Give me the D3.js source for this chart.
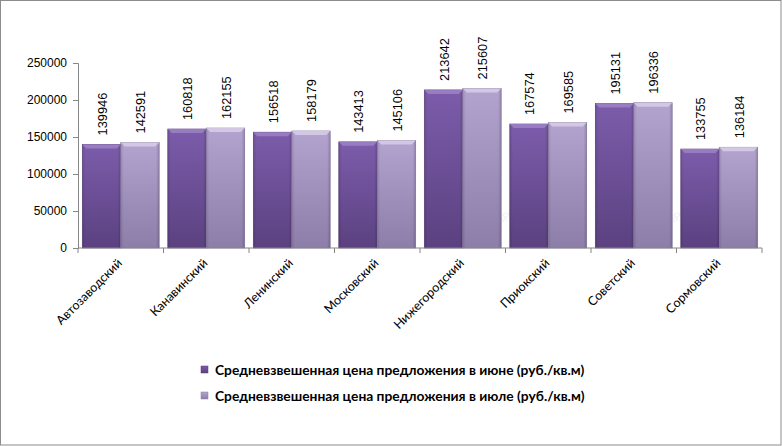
<!DOCTYPE html>
<html><head><meta charset="utf-8">
<script src="https://cdn.jsdelivr.net/npm/d3@7/dist/d3.min.js"></script>
<style>body{margin:0;background:#fff}svg{display:block}</style>
</head><body><svg id="c" width="782" height="446"></svg>
<script>
const categories = ["Автозаводский","Канавинский","Ленинский","Московский","Нижегородский","Приокский","Советский","Сормовский"];
const seriesNames = ["Средневзвешенная цена предложения в июне (руб./кв.м)","Средневзвешенная цена предложения в июле (руб./кв.м)"];
const juneValues = [139946,160818,156518,143413,213642,167574,195131,133755];
const julyValues = [142591,162155,158179,145106,215607,169585,196336,136184];
const yTicks = [0,50000,100000,150000,200000,250000];
const watermarks = [["Автозаводский",0.5],["Канавинский",0.5],["Приокский",0.2],["Сормовский",0.2]];

const svg = d3.select("#c");
const W=782,H=446;
svg.append("rect").attr("x",0.5).attr("y",0.5).attr("width",W-1.5).attr("height",H-1.5).attr("fill","#fff").attr("stroke","#8c8c8c");

const x = d3.scaleBand().domain(categories).range([78,762]).paddingInner(0.1).paddingOuter(0.05);
const xs = d3.scaleBand().domain([0,1]).range([0,x.bandwidth()]);
const y = d3.scaleLinear().domain([0,250000]).range([248,63]);

const defs = svg.append("defs");
const cols = [["#7c5cab","#5b4180"],["#b3a3cf","#8c7ea8"]];
cols.forEach((c,i)=>{
  const g = defs.append("linearGradient").attr("id","g"+i).attr("x1",0).attr("y1",0).attr("x2",0).attr("y2",1);
  g.append("stop").attr("offset",0).attr("stop-color",c[0]);
  g.append("stop").attr("offset",1).attr("stop-color",c[1]);
  const h = defs.append("linearGradient").attr("id","s"+i).attr("x1",0).attr("y1",0).attr("x2",1).attr("y2",0);
  h.append("stop").attr("offset",0).attr("stop-color","#000").attr("stop-opacity",0.12);
  h.append("stop").attr("offset",0.08).attr("stop-color","#000").attr("stop-opacity",0);
  h.append("stop").attr("offset",0.92).attr("stop-color","#000").attr("stop-opacity",0);
  h.append("stop").attr("offset",1).attr("stop-color","#000").attr("stop-opacity",0.18);
});

// watermarks
watermarks.forEach(([c,f])=>{
  svg.append("text").attr("transform",`translate(${x(c)+x.bandwidth()*f},210) rotate(-30)`)
    .attr("text-anchor","middle").attr("font-family","Liberation Sans, Arial").attr("font-size",11)
    .attr("fill","#000").attr("opacity",0.06).text("GIPERNN.RU");
});

const series = [juneValues, julyValues];
series.forEach((vals,si)=>{
  const g = svg.append("g");
  const data = categories.map((c,i)=>({c,v:vals[i]}));
  const bx = d=>x(d.c)+xs(si), bw = xs.bandwidth();
  g.selectAll("rect.b").data(data).join("rect").attr("class","b")
    .attr("x",bx).attr("y",d=>y(d.v)).attr("width",bw).attr("height",d=>y(0)-y(d.v))
    .attr("fill",`url(#g${si})`).attr("stroke",si?"#8a7ca6":"#553c78").attr("stroke-width",0.6);
  g.selectAll("rect.s").data(data).join("rect").attr("class","s")
    .attr("x",bx).attr("y",d=>y(d.v)).attr("width",bw).attr("height",d=>y(0)-y(d.v))
    .attr("fill",`url(#s${si})`);
  g.selectAll("path.t").data(data).join("path").attr("class","t")
    .attr("d",d=>{const x0=bx(d),y0=y(d.v);return `M${x0},${y0}L${x0+bw},${y0}L${x0+bw-4},${y0+4}L${x0+4},${y0+4}Z`;})
    .attr("fill",si?"#d8cfe8":"#9d83c6").attr("opacity",0.85);
  g.selectAll("text").data(data).join("text")
    .attr("transform",d=>`translate(${bx(d)+bw/2+1},${y(d.v)-9}) rotate(-90)`)
    .attr("dy","0.35em").attr("font-family","Liberation Sans, Arial").attr("font-size",12.8).attr("fill","#000")
    .text(d=>d.v);
});

// y axis
const ya = svg.append("g").attr("transform","translate(78,0)")
  .call(d3.axisLeft(y).tickValues(yTicks).tickSize(5).tickFormat(d=>d));
ya.select(".domain").attr("stroke","#868686");
ya.selectAll(".tick line").attr("stroke","#868686");
ya.selectAll("text").attr("font-family","Liberation Sans, Arial").attr("font-size",12).attr("fill","#000").attr("x",-11);

// x axis
const xa = svg.append("g").attr("transform","translate(0,248)");
xa.append("line").attr("x1",78).attr("x2",762).attr("stroke","#868686");
const bounds = categories.map(c=>x(c)-x.step()*x.paddingInner()/2).concat([762]);
xa.selectAll("line.tk").data(bounds).join("line").attr("class","tk")
  .attr("x1",d=>d).attr("x2",d=>d).attr("y1",0).attr("y2",5).attr("stroke","#868686");
xa.selectAll("text").data(categories).join("text")
  .attr("transform",c=>`translate(${x(c)+x.bandwidth()/2+2},16) rotate(-45)`)
  .attr("text-anchor","end").attr("font-family","Lato, Open Sans").attr("font-size",12.5).attr("fill","#000")
  .text(c=>c);

// legend
const lg = svg.append("g");
seriesNames.forEach((n,i)=>{
  const yy = 370 + i*26;
  lg.append("rect").attr("x",201).attr("y",yy-4).attr("width",7).attr("height",7).attr("fill",`url(#g${i})`).attr("stroke",i?"#8a7ca6":"#553c78").attr("stroke-width",0.5);
  lg.append("text").attr("x",215).attr("y",yy).attr("dy","0.35em").attr("font-family","Lato, Open Sans").attr("font-weight","bold")
    .attr("font-size",13.8).attr("fill","#000").text(n);
});
</script></body></html>
